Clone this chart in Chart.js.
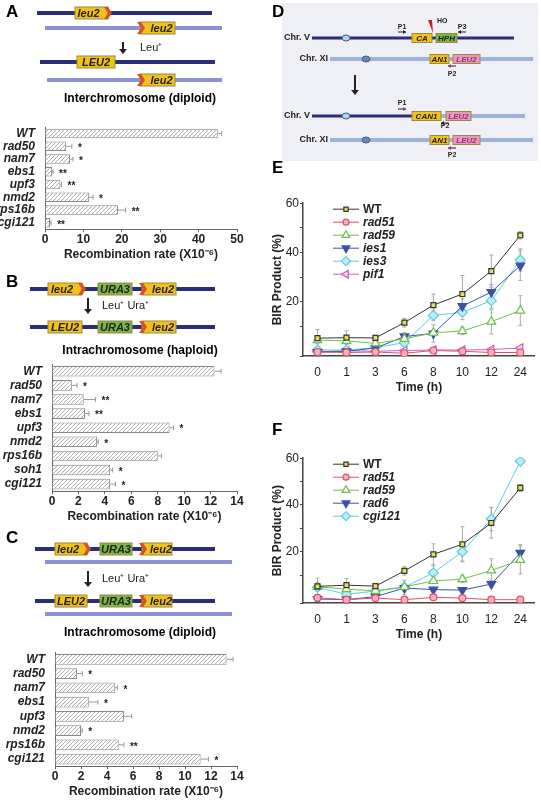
<!DOCTYPE html>
<html>
<head>
<meta charset="utf-8">
<script src="https://cdn.jsdelivr.net/npm/chart.js@4/dist/chart.umd.min.js"></script>
<style>
  body { margin: 0; background: #fff; font-family: "Liberation Sans", Arial, sans-serif; }
  #wrap { position: relative; width: 541px; height: 800px; overflow: hidden; }
  canvas { position: absolute; }
  .lbl { position: absolute; font-weight: bold; font-size: 17px; }
  .ttl { position: absolute; font-weight: bold; font-size: 12px; width: 270px; text-align: center; }
</style>
</head>
<body>
<div id="wrap">
  <canvas id="schema" width="541" height="800" style="left:0;top:0"></canvas>
  <div class="lbl" style="left:6px;top:2px">A</div>
  <div class="lbl" style="left:6px;top:272px">B</div>
  <div class="lbl" style="left:6px;top:528px">C</div>
  <div class="lbl" style="left:272px;top:2px">D</div>
  <div class="lbl" style="left:272px;top:158px">E</div>
  <div class="lbl" style="left:272px;top:420px">F</div>
  <div class="ttl" style="left:5px;top:91px">Interchromosome (diploid)</div>
  <div class="ttl" style="left:5px;top:343px">Intrachromosome (haploid)</div>
  <div class="ttl" style="left:5px;top:625px">Intrachromosome (diploid)</div>
  <div style="position:absolute;left:0;top:118px;width:270px;height:145px"><canvas id="chart-a"></canvas></div>
  <div style="position:absolute;left:0;top:355px;width:270px;height:170px"><canvas id="chart-b"></canvas></div>
  <div style="position:absolute;left:0;top:643px;width:270px;height:157px"><canvas id="chart-c"></canvas></div>
  <div style="position:absolute;left:270px;top:195px;width:271px;height:200px"><canvas id="chart-e"></canvas></div>
  <div style="position:absolute;left:270px;top:450px;width:271px;height:192px"><canvas id="chart-f"></canvas></div>
</div>
<script>
// ---- данные ----
const strainsA = ["WT", "rad50", "nam7", "ebs1", "upf3", "nmd2", "rps16b", "cgi121"];
const ratesA = [45, 5.5, 6.5, 1.8, 4, 11.5, 19, 1.3];
const errA = [1, 1.5, 0.8, 0.3, 0.3, 1, 2, 0.3];
const starsA = ["", "*", "*", "**", "**", "*", "**", "**"];

const strainsB = ["WT", "rad50", "nam7", "ebs1", "upf3", "nmd2", "rps16b", "soh1", "cgi121"];
const ratesB = [12.3, 1.5, 2.4, 2.5, 8.9, 3.4, 8.0, 4.4, 4.4];
const errB = [0.5, 0.4, 0.9, 0.3, 0.3, 0.1, 0.3, 0.2, 0.4];
const starsB = ["", "*", "**", "**", "*", "*", "", "*", "*"];

const strainsC = ["WT", "rad50", "nam7", "ebs1", "upf3", "nmd2", "rps16b", "cgi121"];
const ratesC = [13.2, 1.7, 4.6, 2.6, 5.3, 2.0, 4.9, 11.2];
const errC = [0.5, 0.4, 0.2, 0.7, 0.6, 0.1, 0.4, 0.6];
const starsC = ["", "*", "*", "*", "", "*", "**", "*"];

const timeLabels = ["0", "1", "3", "6", "8", "10", "12", "24"];

const wtE = [5.3, 5.5, 5.4, 11.6, 18.7, 23.2, 32.5, 47];
const wtErr = [3.5, 2.8, 0.5, 1.8, 4.5, 7.5, 6.5, 1.5];
const rad51E = [-0.3, -0.5, -0.3, -0.8, 0.3, 0, -0.5, -0.5];
const rad59E = [4.5, 4.2, 3.2, 5, 7.5, 8.2, 12, 16.5];
const rad59Err = [1.5, 1, 1, 1, 1, 1.5, 5, 6];
const ies1E = [-0.3, 0, 1.3, 6, 7.2, 18.3, 24, 34.7];
const ies1Err = [0.5, 0.5, 1, 1.5, 3.5, 3, 3, 6];
const ies3E = [0.5, 0.5, 1.5, 3.5, 14.5, 15.8, 20.5, 37];
const ies3Err = [0.5, 0.5, 1, 1.5, 2, 3, 3, 4.5];
const pif1E = [-0.2, 0.2, 0, 0.3, 0.5, 0.5, 0.7, 1.3];

const wtF = [5.2, 5.7, 5.3, 11.8, 18.9, 23.2, 32.3, 47.3];
const rad51F = [0.3, -0.5, 0.2, -0.5, 0.5, 0.2, -0.5, -0.5];
const rad59F = [5, 4, 3.3, 5, 7.5, 8.3, 12, 16.5];
const rad6F = [-0.2, -0.5, 0.8, 4.5, 3.8, 3.6, 6.2, 19.5];
const rad6Err = [0.5, 0.5, 0.5, 1, 1, 1, 1.5, 3.5];
const cgi121F = [4.8, 1.8, 3.2, 4.8, 11, 20, 34, 58.7];
const cgi121Err = [1, 1, 1, 3, 3, 4, 5, 1.5];

const FONT = "'Liberation Sans', Arial, sans-serif";
Chart.defaults.font.family = FONT;
Chart.defaults.color = "#222";

// ---- схемы ----
function drawSchemes() {
  const ctx = document.getElementById("schema").getContext("2d");
  const dark = "#2a2d78", light = "#8c90d4";
  function line(x1, x2, y, c, w) {
    ctx.fillStyle = c; ctx.fillRect(x1, y - (w || 4) / 2, x2 - x1, w || 4);
  }
  function box(x1, x2, y, txt, fill, opts) {
    opts = opts || {};
    const h = opts.h || 12;
    ctx.fillStyle = fill; ctx.strokeStyle = "#9a8a40"; ctx.lineWidth = 1;
    ctx.fillRect(x1, y - h / 2, x2 - x1, h); ctx.strokeRect(x1, y - h / 2, x2 - x1, h);
    if (opts.chev) {
      const cx = opts.chev === "r" ? x2 - 4 : x1 - 3;
      ctx.fillStyle = "#d8502a";
      ctx.beginPath();
      ctx.moveTo(cx, y - h / 2); ctx.lineTo(cx + 4, y - h / 2); ctx.lineTo(cx + 8, y);
      ctx.lineTo(cx + 4, y + h / 2); ctx.lineTo(cx, y + h / 2); ctx.lineTo(cx + 4, y);
      ctx.closePath(); ctx.fill();
    }
    ctx.fillStyle = opts.color || "#222";
    ctx.font = (opts.italic === false ? "bold " : "italic bold ") + (opts.fs || 11) + "px " + FONT;
    ctx.textAlign = "center"; ctx.textBaseline = "middle";
    const off = opts.chev === "r" ? -3 : opts.chev === "l" ? 4 : 0;
    ctx.fillText(txt, (x1 + x2) / 2 + off, y + 0.5);
  }
  function arrow(x, y1, y2) {
    ctx.strokeStyle = "#222"; ctx.fillStyle = "#222"; ctx.lineWidth = 2;
    ctx.beginPath(); ctx.moveTo(x, y1); ctx.lineTo(x, y2 - 4); ctx.stroke();
    ctx.beginPath(); ctx.moveTo(x - 4, y2 - 5); ctx.lineTo(x + 4, y2 - 5); ctx.lineTo(x, y2); ctx.fill();
  }
  function txt(s, x, y, font, align) {
    ctx.fillStyle = "#222"; ctx.font = font + " " + FONT;
    ctx.textAlign = align || "left"; ctx.textBaseline = "middle"; ctx.fillText(s, x, y);
  }
  const Y = "#f3c21a", G = "#7ab648", P = "#e69ac0";

  // A
  line(37, 212, 13, dark); box(75, 108, 13, "leu2", Y, { chev: "r" });
  line(45, 222, 28, light); box(140, 175, 28, "leu2", Y, { chev: "l" });
  arrow(123, 42, 54); txt("Leu⁺", 140, 48, "11px");
  line(40, 215, 62, dark); box(77, 115, 62, "LEU2", Y, { italic: true });
  line(47, 222, 80, light); box(140, 175, 80, "leu2", Y, { chev: "l" });

  // B
  line(30, 215, 289, dark);
  box(48, 82, 289, "leu2", Y, { chev: "r" }); box(98, 132, 289, "URA3", G); box(142, 176, 289, "leu2", Y, { chev: "l" });
  arrow(88, 298, 314); txt("Leu⁺ Ura⁺", 102, 306, "11px");
  line(30, 215, 327, dark);
  box(48, 82, 327, "LEU2", Y); box(98, 132, 327, "URA3", G); box(142, 176, 327, "leu2", Y, { chev: "l" });

  // C
  line(35, 215, 549, dark);
  box(55, 87, 549, "leu2", Y, { chev: "r" }); box(100, 132, 549, "URA3", G); box(142, 172, 549, "leu2", Y, { chev: "l" });
  line(45, 232, 562, light);
  arrow(88, 571, 587); txt("Leu⁺ Ura⁺", 102, 579, "11px");
  line(35, 215, 601, dark);
  box(55, 87, 601, "LEU2", Y); box(100, 132, 601, "URA3", G); box(142, 172, 601, "leu2", Y, { chev: "l" });
  line(45, 232, 614, light);

  // D
  ctx.fillStyle = "#eef0f6"; ctx.fillRect(282, 3, 256, 158);
  const lb = "#9fb4dc";
  function cen(x, y, c) {
    ctx.fillStyle = c; ctx.strokeStyle = "#4a5a8a"; ctx.lineWidth = 1;
    ctx.beginPath(); ctx.ellipse(x, y, 4, 3, 0, 0, 2 * Math.PI); ctx.fill(); ctx.stroke();
  }
  function prim(x, y, dir, name, ty) {
    ctx.strokeStyle = "#222"; ctx.lineWidth = 1;
    ctx.beginPath(); ctx.moveTo(x, y); ctx.lineTo(x + 8 * dir, y); ctx.stroke();
    ctx.beginPath(); ctx.moveTo(x + 8 * dir, y); ctx.lineTo(x + 5 * dir, y - 2); ctx.lineTo(x + 5 * dir, y + 2); ctx.fill();
    txt(name, x + 4 * dir, ty, "bold 7px", "center");
  }
  const dOpt = { h: 9, fs: 8 };
  txt("Chr. V", 310, 38, "bold 9px", "right"); line(312, 514, 38, dark, 3); cen(346, 38, "#a8d8e8");
  box(412, 432, 38, "CA", Y, dOpt); box(436, 457, 38, "HPH", G, dOpt);
  ctx.fillStyle = "#c0202a"; ctx.beginPath(); ctx.moveTo(428, 20); ctx.lineTo(432, 20); ctx.lineTo(433, 33); ctx.closePath(); ctx.fill();
  txt("HO", 437, 21, "bold 7px"); prim(398, 32, 1, "P1", 27); prim(466, 32, -1, "P3", 27);
  txt("Chr. XI", 328, 59, "bold 9px", "right"); line(330, 533, 59, lb, 4); cen(366, 59, "#6a86c0");
  box(430, 449, 59, "AN1", Y, dOpt); box(453, 480, 59, "LEU2", P, { h: 9, fs: 8, color: "#a03070" });
  prim(456, 66, -1, "P2", 74);
  arrow(355, 75, 95);
  txt("Chr. V", 310, 116, "bold 9px", "right"); line(312, 412, 116, dark, 3); line(412, 525, 116, lb, 4); cen(346, 116, "#a8d8e8");
  box(412, 441, 116, "CAN1", Y, dOpt); box(446, 471, 116, "LEU2", P, { h: 9, fs: 8, color: "#a03070" });
  prim(398, 109, 1, "P1", 103); prim(449, 123, -1, "P2", 126);
  txt("Chr. XI", 328, 140, "bold 9px", "right"); line(330, 533, 140, lb, 4); cen(366, 140, "#6a86c0");
  box(430, 449, 140, "AN1", Y, dOpt); box(453, 480, 140, "LEU2", P, { h: 9, fs: 8, color: "#a03070" });
  prim(456, 148, -1, "P2", 155);
}
drawSchemes();

// штриховка столбцов
function hatchPattern() {
  const c = document.createElement("canvas");
  c.width = 4; c.height = 4;
  const g = c.getContext("2d");
  g.fillStyle = "#fff"; g.fillRect(0, 0, 4, 4);
  g.strokeStyle = "#999"; g.lineWidth = 0.8;
  g.beginPath(); g.moveTo(0, 4); g.lineTo(4, 0); g.moveTo(-1, 1); g.lineTo(1, -1); g.moveTo(3, 5); g.lineTo(5, 3); g.stroke();
  return g.createPattern(c, "repeat");
}

// ошибки и звездочки у столбцов
const barExtrasPlugin = {
  id: "barExtras",
  afterDatasetsDraw(chart) {
    const ctx = chart.ctx, xs = chart.scales.x, meta = chart.getDatasetMeta(0);
    const ds = chart.data.datasets[0];
    ctx.save();
    meta.data.forEach((el, i) => {
      const x0 = xs.getPixelForValue(ds.data[i]);
      const x1 = xs.getPixelForValue(ds.data[i] + ds.err[i]);
      ctx.strokeStyle = "#999"; ctx.lineWidth = 1;
      ctx.beginPath(); ctx.moveTo(x0, el.y); ctx.lineTo(x1, el.y);
      ctx.moveTo(x1, el.y - 2.5); ctx.lineTo(x1, el.y + 2.5); ctx.stroke();
      if (ds.stars[i]) {
        ctx.fillStyle = "#222"; ctx.font = "bold 10px " + FONT;
        ctx.textBaseline = "middle"; ctx.fillText(ds.stars[i], x1 + 6, el.y + 2);
      }
    });
    ctx.restore();
  },
};

function barChart(id, labels, data, err, stars, max, step, yWidth) {
  return new Chart(document.getElementById(id), {
    type: "bar",
    data: {
      labels: labels,
      datasets: [{
        data: data, err: err, stars: stars,
        backgroundColor: hatchPattern(), borderColor: "#888", borderWidth: 1,
        categoryPercentage: 0.75, barPercentage: 1,
      }],
    },
    plugins: [barExtrasPlugin],
    options: {
      indexAxis: "y", responsive: true, maintainAspectRatio: false, animation: false,
      layout: { padding: { right: 33 } },
      scales: {
        x: {
          min: 0, max: max,
          ticks: { stepSize: step, font: { size: 12, weight: "bold" }, color: "#222", padding: 0 },
          grid: { drawOnChartArea: false, tickLength: 3, color: "#666" },
          border: { color: "#666" },
          title: { display: true, text: "Recombination rate (X10⁻⁶)", font: { size: 12, weight: "bold" }, padding: 1, color: "#222" },
        },
        y: {
          afterFit: (s) => { s.width = yWidth; },
          ticks: { autoSkip: false, font: { size: 12, weight: "bold", style: "italic" }, color: "#222", padding: 2 },
          grid: { display: false }, border: { color: "#666" },
        },
      },
      plugins: { legend: { display: false }, tooltip: { enabled: false } },
    },
  });
}
barChart("chart-a", strainsA, ratesA, errA, starsA, 50, 10, 45);
barChart("chart-b", strainsB, ratesB, errB, starsB, 14, 2, 52);
barChart("chart-c", strainsC, ratesC, errC, starsC, 14, 2, 55);

// ---- линейные графики ----
const seriesStyle = {
  WT: { color: "#333", bg: "#e6df5a", style: "rect", radius: 3.5 },
  rad51: { color: "#e0506a", bg: "#f4b0bc", style: "circle", radius: 3.5 },
  rad59: { color: "#6cc04a", bg: "#fff", style: "triangle", radius: 5 },
  ies1: { color: "#3a52a6", bg: "#3a52a6", style: "triangle", radius: 5, rotation: 180 },
  rad6: { color: "#3a52a6", bg: "#3a52a6", style: "triangle", radius: 5, rotation: 180 },
  ies3: { color: "#5ccfe0", bg: "#bdeef4", style: "rectRot", radius: 5 },
  cgi121: { color: "#5ccfe0", bg: "#bdeef4", style: "rectRot", radius: 5 },
  pif1: { color: "#c860c0", bg: "#f0d0ee", style: "triangle", radius: 5, rotation: -90 },
};

function lineDataset(name, values, errs) {
  const s = seriesStyle[name];
  return {
    label: name, data: values, err: errs,
    borderColor: s.color, backgroundColor: s.bg, borderWidth: 1,
    pointStyle: s.style, pointRadius: s.radius, pointRotation: s.rotation || 0,
    pointBorderColor: s.color, pointBackgroundColor: s.bg, pointBorderWidth: 1.2,
  };
}

const lineExtrasPlugin = {
  id: "lineExtras",
  beforeDatasetsDraw(chart) {
    const ctx = chart.ctx, ys = chart.scales.y;
    ctx.save();
    chart.data.datasets.forEach((ds, di) => {
      if (!ds.err) return;
      chart.getDatasetMeta(di).data.forEach((pt, i) => {
        const yt = ys.getPixelForValue(ds.data[i] + ds.err[i]);
        const yb = ys.getPixelForValue(ds.data[i] - ds.err[i]);
        ctx.strokeStyle = "#aaa"; ctx.lineWidth = 1;
        ctx.beginPath(); ctx.moveTo(pt.x, yt); ctx.lineTo(pt.x, yb);
        ctx.moveTo(pt.x - 2, yt); ctx.lineTo(pt.x + 2, yt);
        ctx.moveTo(pt.x - 2, yb); ctx.lineTo(pt.x + 2, yb); ctx.stroke();
      });
    });
    ctx.restore();
  },
  afterDatasetsDraw(chart) {
    // легенда: линия + маркер
    const ctx = chart.ctx, a = chart.chartArea;
    ctx.save();
    chart.data.datasets.forEach((ds, i) => {
      const x = a.left + 30, y = a.top + 6 + i * 13;
      ctx.strokeStyle = ds.borderColor; ctx.lineWidth = 1;
      ctx.beginPath(); ctx.moveTo(x, y); ctx.lineTo(x + 26, y); ctx.stroke();
      ctx.fillStyle = ds.pointBackgroundColor; ctx.strokeStyle = ds.pointBorderColor; ctx.lineWidth = 1.2;
      Chart.helpers.drawPoint(ctx, { pointStyle: ds.pointStyle, radius: ds.pointRadius - 0.5, rotation: ds.pointRotation, borderWidth: 1.2 }, x + 13, y);
      ctx.fillStyle = "#222";
      ctx.font = (ds.label === "WT" ? "bold " : "italic bold ") + "12px " + FONT;
      ctx.textBaseline = "middle"; ctx.fillText(ds.label, x + 30, y);
    });
    ctx.restore();
  },
};

function lineChart(id, datasets) {
  return new Chart(document.getElementById(id), {
    type: "line",
    data: { labels: timeLabels, datasets: datasets },
    plugins: [lineExtrasPlugin],
    options: {
      responsive: true, maintainAspectRatio: false, animation: false,
      layout: { padding: { top: 6, right: 2 } },
      scales: {
        x: {
          offset: true,
          ticks: { font: { size: 12 }, color: "#222", padding: 1 },
          grid: { display: false, offset: false }, border: { color: "#444", width: 1.5 },
          title: { display: true, text: "Time (h)", font: { size: 12, weight: "bold" }, padding: 0, color: "#222" },
        },
        y: {
          min: -2, max: 60,
          afterFit: (s) => { s.width = 33; },
          ticks: {
            stepSize: 10, font: { size: 12 }, color: "#222", padding: 1,
            callback: (v) => (v >= 0 && v % 20 === 0 ? v : ""),
          },
          grid: { drawOnChartArea: false, tickLength: 3, color: "#444" },
          border: { color: "#444", width: 1.5 },
          title: { display: true, text: "BIR Product (%)", font: { size: 12, weight: "bold" }, padding: 0, color: "#222" },
        },
      },
      plugins: { legend: { display: false }, tooltip: { enabled: false } },
    },
  });
}

lineChart("chart-e", [
  lineDataset("WT", wtE, wtErr),
  lineDataset("rad51", rad51E),
  lineDataset("rad59", rad59E, rad59Err),
  lineDataset("ies1", ies1E, ies1Err),
  lineDataset("ies3", ies3E, ies3Err),
  lineDataset("pif1", pif1E),
]);
lineChart("chart-f", [
  lineDataset("WT", wtF, wtErr),
  lineDataset("rad51", rad51F),
  lineDataset("rad59", rad59F, rad59Err),
  lineDataset("rad6", rad6F, rad6Err),
  lineDataset("cgi121", cgi121F, cgi121Err),
]);
</script>
</body>
</html>
